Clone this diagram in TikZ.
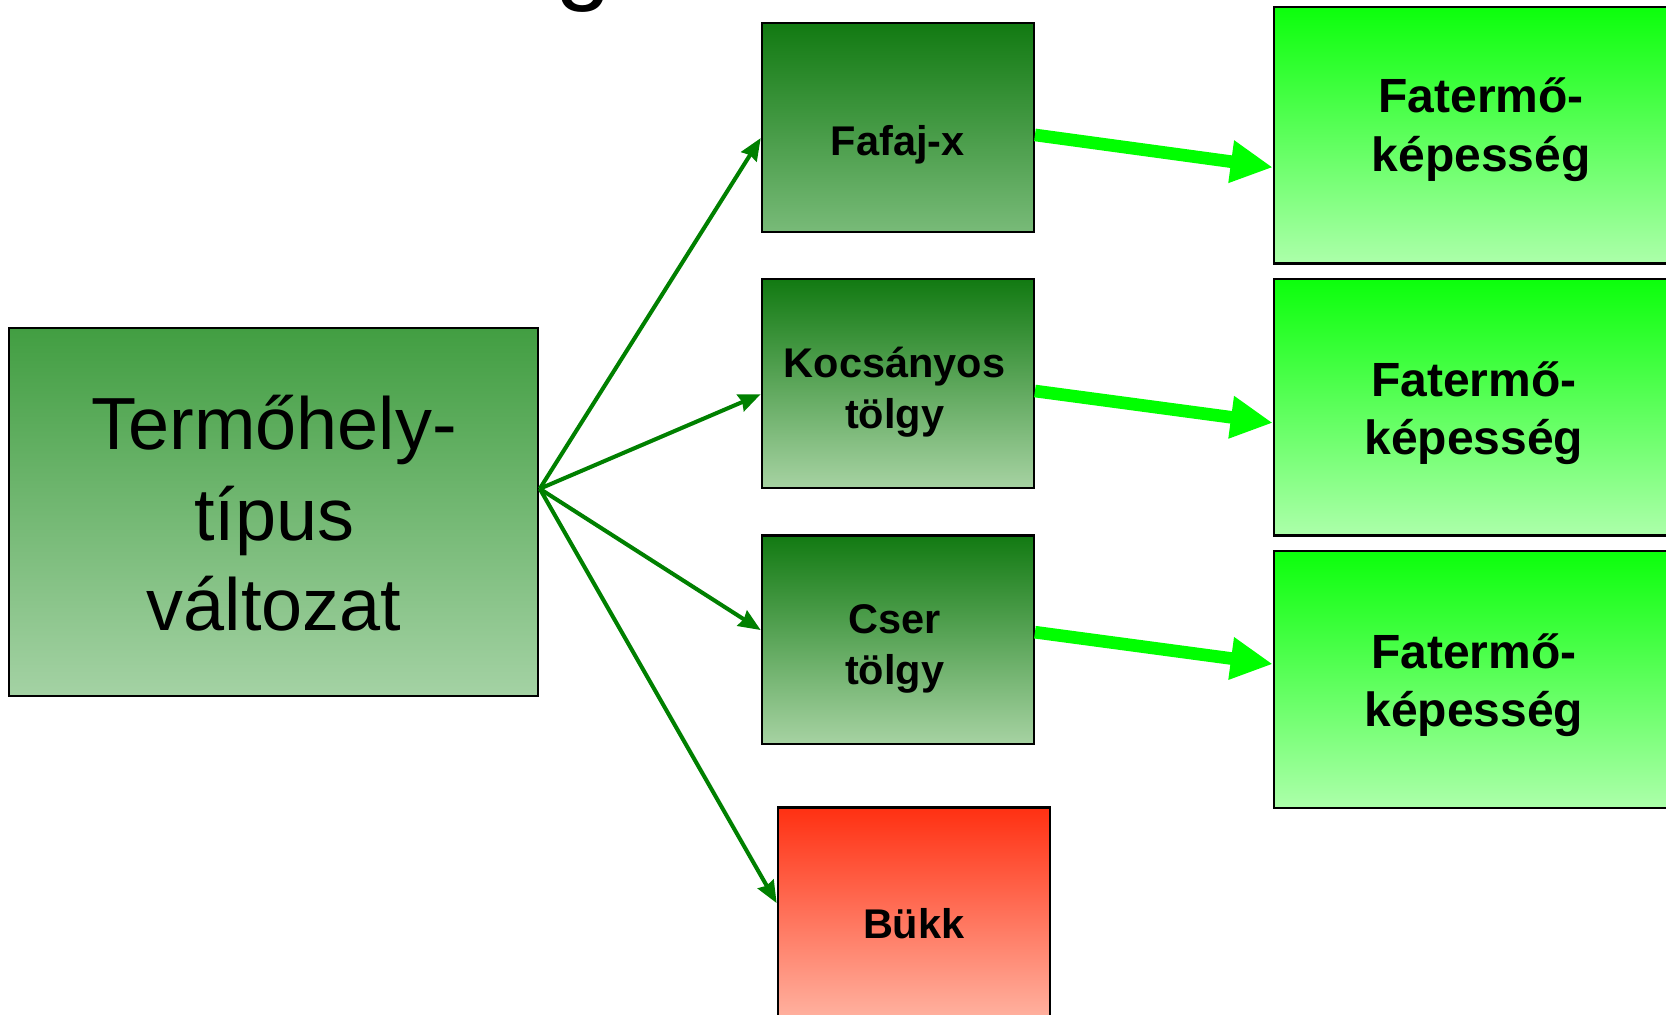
\documentclass[tikz,border=0pt]{standalone}
\usepackage{fontspec}
\setmainfont{Liberation Sans}
\usetikzlibrary{arrows.meta,calc}

\definecolor{mainTop}{RGB}{66,158,66}
\definecolor{mainBot}{RGB}{164,210,164}
\definecolor{spTop}{RGB}{18,122,18}
\definecolor{spBotA}{RGB}{120,186,120}
\definecolor{spBotB}{RGB}{166,210,162}
\definecolor{fatTop}{RGB}{12,255,12}
\definecolor{fatBot}{RGB}{172,255,170}
\definecolor{redTop}{RGB}{255,48,18}
\definecolor{redBot}{RGB}{255,176,158}
\definecolor{linkGreen}{RGB}{0,128,0}
\definecolor{flowGreen}{RGB}{0,255,0}

\tikzset{
  box/.style={draw=black, line width=0.6pt, inner sep=0pt},
  mainbox/.style={box, top color=mainTop, bottom color=mainBot,
    minimum width=5.2806cm, minimum height=3.6763cm},
  speciesbox/.style={box, top color=spTop, bottom color=spBotB,
    minimum width=2.72cm, minimum height=2.0825cm},
  yieldbox/.style={box, top color=fatTop, bottom color=fatBot,
    minimum width=4.0588cm, minimum height=2.5606cm},
  beechbox/.style={box, top color=redTop, bottom color=redBot,
    minimum width=2.72cm, minimum height=2.0825cm},
  bigtext/.style={font=\fontsize{21pt}{25.6pt}\selectfont, align=center, inner sep=0pt},
  midtext/.style={font=\fontsize{11.8pt}{14.5pt}\selectfont\bfseries, align=center, inner sep=0pt},
  yieldtext/.style={font=\fontsize{13.65pt}{16.6pt}\selectfont\bfseries, align=center, inner sep=0pt},
  link/.style={draw=linkGreen, line width=1.15pt, -{Stealth[length=0.22cm, width=0.18cm, inset=0.02cm]}},
  flow/.style={draw=flowGreen, line width=3.6pt, -{Triangle[length=0.42cm, width=0.40cm]}}
}

\begin{document}
\begin{tikzpicture}[x=0.010625cm, y=-0.010625cm]
  \useasboundingbox (0,0) rectangle (1568,955);

  % title line, only the descender reaches into view
  \node[anchor=base, inner sep=0pt, font=\fontsize{28.7pt}{34pt}\selectfont] (title) at (549,-8) {g};

  % site type
  \node[mainbox] (site) at (257.5,482) {};
  \node[bigtext] (siteT) at (258,483) {Termőhely-\\típus\\változat};

  % tree species
  \node[speciesbox, bottom color=spBotA] (fafaj) at (845,120) {};
  \node[midtext] (fafajT) at (845,136) {Fafaj-x};
  \node[speciesbox] (kocs) at (845,361) {};
  \node[midtext] (kocsT) at (842,369) {Kocsányos\\tölgy};
  \node[speciesbox] (cser) at (845,602) {};
  \node[midtext] (cserT) at (842,611) {Cser\\tölgy};
  \node[beechbox] (bukk) at (860,858) {};
  \node[midtext] (bukkT) at (860,869) {Bükk};

  % yield capacity
  \node[yieldbox] (fat1) at (1390,127.5) {};
  \node[yieldtext] (fat1T) at (1394,122) {Fatermő-\\képesség};
  \node[yieldbox] (fat2) at (1390,383.5) {};
  \node[yieldtext] (fat2T) at (1387,389) {Fatermő-\\képesség};
  \node[yieldbox] (fat3) at (1390,639.5) {};
  \node[yieldtext] (fat3T) at (1387,645) {Fatermő-\\képesség};

  % branching links
  \coordinate (src) at (508,460);
  \draw[link] (src) -- ($(fafaj.west)+(0,10)$);
  \draw[link] (src) -- ($(kocs.west)+(0,10)$);
  \draw[link] (src) -- ($(cser.west)+(0,-9)$);
  \draw[link] (src) -- ($(bukk.west)+(0,-8)$);

  % species to yield capacity
  \draw[flow] ($(fafaj.east)+(0,7)$) -- ($(fat1.west)+(0,30)$);
  \draw[flow] ($(kocs.east)+(0,7)$) -- ($(fat2.west)+(0,14.5)$);
  \draw[flow] ($(cser.east)+(0,-7)$) -- ($(fat3.west)+(0,-14.5)$);
\end{tikzpicture}
\end{document}
